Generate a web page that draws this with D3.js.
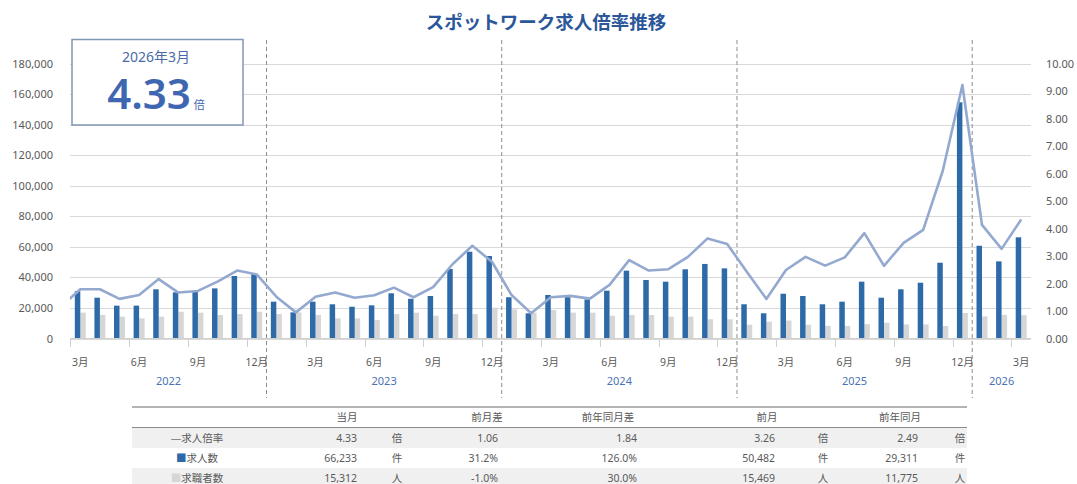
<!DOCTYPE html>
<html>
<head>
<meta charset="utf-8">
<script src="https://cdn.jsdelivr.net/npm/d3@7"></script>
<style>
  body { margin: 0; background: #fff; }
  text { font-family: "Noto Sans", "Noto Sans CJK JP", sans-serif; }
</style>
</head>
<body>
<script>
// months on the category axis, Mar 2022 .. Mar 2026
const months = [
  "2022-03","2022-04","2022-05","2022-06","2022-07","2022-08","2022-09","2022-10","2022-11","2022-12",
  "2023-01","2023-02","2023-03","2023-04","2023-05","2023-06","2023-07","2023-08","2023-09","2023-10","2023-11","2023-12",
  "2024-01","2024-02","2024-03","2024-04","2024-05","2024-06","2024-07","2024-08","2024-09","2024-10","2024-11","2024-12",
  "2025-01","2025-02","2025-03","2025-04","2025-05","2025-06","2025-07","2025-08","2025-09","2025-10","2025-11","2025-12",
  "2026-01","2026-02","2026-03"
];

// 求人数 (left axis)
const jobs = [
  31000, 26700, 21500, 21500, 32200, 30200, 30600, 32800, 40900, 42200,
  24100, 17100, 24100, 22400, 20800, 21700, 29600, 26000, 27800, 45500, 56800, 54000,
  27000, 16500, 28500, 27400, 25600, 31300, 44400, 38300, 37200, 45300, 48800, 45900,
  22400, 16500, 29311, 27800, 22400, 24100, 37200, 26700, 32200, 36500, 49600, 154600,
  60700, 50482, 66233
];

// 求職者数 (left axis)
const seekers = [
  16900, 15400, 14300, 13200, 14300, 17500, 16900, 15400, 16000, 17500,
  16000, 17100, 15400, 13200, 13200, 12100, 16000, 16900, 14900, 16000, 16000, 20200,
  19100, 16900, 18700, 16900, 16900, 14900, 15400, 15400, 14300, 14300, 12600, 12600,
  9000, 11000, 11775, 9000, 8300, 8200, 9400, 10300, 9200, 9200, 8200, 16700,
  14500, 15469, 15312
];

// 求人倍率 (right axis)
const ratio = [
  1.79, 1.79, 1.44, 1.58, 2.16, 1.67, 1.73, 2.07, 2.47, 2.33,
  1.52, 0.95, 1.52, 1.67, 1.48, 1.57, 1.85, 1.50, 1.87, 2.71, 3.37, 2.79,
  1.58, 0.92, 1.50, 1.55, 1.45, 1.95, 2.85, 2.47, 2.52, 2.97, 3.64, 3.44,
  2.43, 1.44, 2.49, 2.97, 2.65, 2.95, 3.83, 2.64, 3.48, 3.95, 6.10, 9.22,
  4.13, 3.26, 4.33
];
const ratioBefore = 1.15; // Feb 2022, only its tail shows at the left edge

const leftTicks = [0, 20000, 40000, 60000, 80000, 100000, 120000, 140000, 160000, 180000];
const rightTicks = [0, 1, 2, 3, 4, 5, 6, 7, 8, 9, 10];

const tableHead = ["当月", "前月差", "前年同月差", "前月", "前年同月"];
const rowNames = ["求人倍率", "求人数", "求職者数"];
const tableRows = [
  ["4.33", "倍", "1.06", "1.84", "3.26", "倍", "2.49", "倍"],
  ["66,233", "件", "31.2%", "126.0%", "50,482", "件", "29,311", "件"],
  ["15,312", "人", "-1.0%", "30.0%", "15,469", "人", "11,775", "人"]
];

const W = 1077, H = 484;
const BLUE = "#2e6aa8", GRAY = "#d6d6d6", LINE = "#94a9cf", TXT = "#595959";

const svg = d3.select("body").append("svg")
    .attr("width", W)
    .attr("height", H);

const x = d3.scaleBand().domain(months).range([70.5, 1031]);
const step = x.step();
const cx = m => x(m) + step / 2;

const yL = d3.scaleLinear().domain([0, 180000]).range([338.5, 63.5]);
const yR = d3.scaleLinear().domain([0, 10]).range([338.5, 63.5]);

// title
svg.append("text")
    .attr("x", 546).attr("y", 29)
    .attr("text-anchor", "middle")
    .attr("font-size", 18.5).attr("font-weight", "bold")
    .attr("fill", "#2b579a")
    .text("スポットワーク求人倍率推移");

// gridlines
svg.append("g").selectAll("line")
    .data(leftTicks)
    .join("line")
    .attr("x1", 70).attr("x2", 1031)
    .attr("y1", d => Math.round(yL(d)) + 0.5).attr("y2", d => Math.round(yL(d)) + 0.5)
    .attr("stroke", "#d9d9d9").attr("stroke-width", 1);

// left axis
const gl = svg.append("g")
    .attr("transform", "translate(57,0)")
    .call(d3.axisLeft(yL).tickValues(leftTicks).tickFormat(d3.format(",")).tickSize(0).tickPadding(4));
gl.select(".domain").remove();
gl.selectAll("text").attr("fill", TXT).attr("font-size", 11)
    .attr("font-family", '"Noto Sans", sans-serif');

// right axis
const gr = svg.append("g")
    .attr("transform", "translate(1042,0)")
    .call(d3.axisRight(yR).tickValues(rightTicks).tickFormat(d3.format(".2f")).tickSize(0).tickPadding(4));
gr.select(".domain").remove();
gr.selectAll("text").attr("fill", TXT).attr("font-size", 11)
    .attr("font-family", '"Noto Sans", sans-serif');

// x axis ticks and labels
const xt = months.filter((m, i) => i % 3 === 0);
svg.append("g").selectAll("line")
    .data(xt)
    .join("line")
    .attr("x1", d => Math.round(x(d)) + 0.5).attr("x2", d => Math.round(x(d)) + 0.5)
    .attr("y1", 339).attr("y2", 347)
    .attr("stroke", "#d0d0d0");

svg.append("g").selectAll("text")
    .data(xt)
    .join("text")
    .attr("x", d => cx(d)).attr("y", 366)
    .attr("text-anchor", "middle")
    .attr("font-size", 10.5).attr("fill", TXT)
    .text(d => +d.slice(5) + "月");

// year labels
const years = d3.groups(months, d => d.slice(0, 4));
svg.append("g").selectAll("text")
    .data(years)
    .join("text")
    .attr("x", d => d3.mean(d[1], cx)).attr("y", 385)
    .attr("text-anchor", "middle")
    .attr("font-size", 11).attr("fill", "#4a72b4")
    .text(d => d[0]);

// year separators
svg.append("g").selectAll("line")
    .data(years.slice(1))
    .join("line")
    .attr("x1", d => x(d[1][0])).attr("x2", d => x(d[1][0]))
    .attr("y1", 40).attr("y2", 398)
    .attr("stroke", "#8c8c8c").attr("stroke-width", 1)
    .attr("stroke-dasharray", "4,3");

// bars
const bw = step * 0.28;
svg.append("g").selectAll("rect")
    .data(seekers)
    .join("rect")
    .attr("x", (d, i) => cx(months[i]))
    .attr("y", d => yL(d))
    .attr("width", bw)
    .attr("height", d => yL(0) - yL(d))
    .attr("fill", GRAY);

svg.append("g").selectAll("rect")
    .data(jobs)
    .join("rect")
    .attr("x", (d, i) => cx(months[i]) - bw)
    .attr("y", d => yL(d))
    .attr("width", bw)
    .attr("height", d => yL(0) - yL(d))
    .attr("fill", BLUE);

// baseline
svg.append("line")
    .attr("x1", 70).attr("x2", 1031)
    .attr("y1", 338.5).attr("y2", 338.5)
    .attr("stroke", "#d0d0d0");

// ratio line
svg.append("clipPath").attr("id", "plot")
    .append("rect").attr("x", 70).attr("y", 0).attr("width", 961).attr("height", 340);

const pts = [[cx(months[0]) - step, ratioBefore]].concat(ratio.map((r, i) => [cx(months[i]), r]));
const line = d3.line()
    .x(d => d[0])
    .y(d => yR(d[1]));

svg.append("path")
    .datum(pts)
    .attr("clip-path", "url(#plot)")
    .attr("fill", "none")
    .attr("stroke", LINE)
    .attr("stroke-width", 2.6)
    .attr("stroke-linejoin", "round")
    .attr("d", line);

// current value box
svg.append("rect")
    .attr("x", 72).attr("y", 39.5)
    .attr("width", 171).attr("height", 85.5)
    .attr("fill", "#fff")
    .attr("stroke", "#8196b3").attr("stroke-width", 1.5);

svg.append("text")
    .attr("x", 156).attr("y", 62)
    .attr("text-anchor", "middle")
    .attr("font-size", 14).attr("fill", "#4a6aa8")
    .text("2026年3月");

const big = svg.append("text")
    .attr("x", 156).attr("y", 109)
    .attr("text-anchor", "middle")
    .attr("fill", "#3f66b0");
big.append("tspan").attr("font-size", 42).attr("font-weight", 600)
    .text(d3.format(".2f")(ratio[ratio.length - 1]));
big.append("tspan").attr("font-size", 11).attr("dx", 3).text("倍");

// table
const t = svg.append("g");
t.selectAll("rect.band")
    .data([0, 2])
    .join("rect")
    .attr("class", "band")
    .attr("x", 132).attr("width", 835)
    .attr("y", d => 428 + d * 20).attr("height", 20)
    .attr("fill", "#f0f0f0");

t.append("line").attr("x1", 132).attr("x2", 967).attr("y1", 407).attr("y2", 407)
    .attr("stroke", "#9a9a9a").attr("stroke-width", 1.5);
t.append("line").attr("x1", 132).attr("x2", 967).attr("y1", 427.5).attr("y2", 427.5)
    .attr("stroke", "#8a8a8a").attr("stroke-width", 1.2);

const headX = [347, 487, 608, 767, 900];
t.selectAll("text.head")
    .data(tableHead)
    .join("text")
    .attr("class", "head")
    .attr("x", (d, i) => headX[i]).attr("y", 421)
    .attr("text-anchor", "middle")
    .attr("font-size", 10.5).attr("fill", TXT)
    .text(d => d);

const marks = [["―", "#8a8a8a"], ["■", BLUE], ["■", GRAY]];
rowNames.forEach((name, r) => {
    const yy = 442 + r * 20;
    const lab = t.append("text")
        .attr("x", 197).attr("y", yy)
        .attr("text-anchor", "middle")
        .attr("font-size", 10.5).attr("fill", TXT);
    lab.append("tspan").attr("fill", marks[r][1]).text(marks[r][0]);
    lab.append("tspan").text(name);

    const colX = [357, 397, 498, 637, 775, 823, 918, 960];
    const isUnit = [false, true, false, false, false, true, false, true];
    tableRows[r].forEach((v, c) => {
        t.append("text")
            .attr("x", colX[c]).attr("y", yy)
            .attr("text-anchor", isUnit[c] ? "middle" : "end")
            .attr("font-size", 10.5).attr("fill", TXT)
            .text(v);
    });
});
</script>
</body>
</html>
